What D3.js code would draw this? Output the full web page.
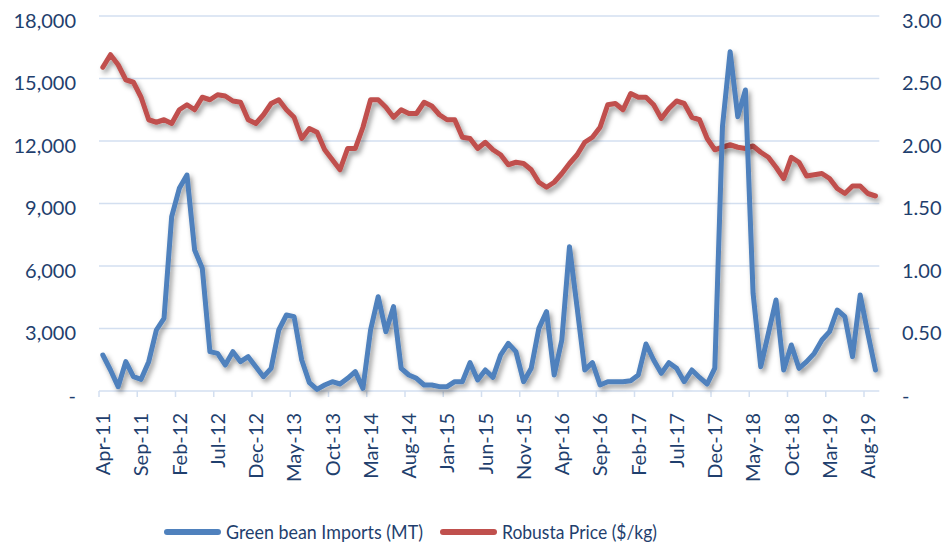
<!DOCTYPE html>
<html>
<head>
<meta charset="utf-8">
<script src="https://cdn.jsdelivr.net/npm/d3@7/dist/d3.min.js"></script>
<style>
  html, body { margin: 0; padding: 0; background: #fff; }
  svg { display: block; }
  text { font-family: Lato, "Open Sans", sans-serif; fill: #1F3F6E; }
</style>
</head>
<body>
<svg id="chart" width="946" height="544"></svg>
<script>
// ---- data ----
const categories = [
  "Apr-11","May-11","Jun-11","Jul-11","Aug-11","Sep-11","Oct-11","Nov-11","Dec-11","Jan-12","Feb-12","Mar-12",
  "Apr-12","May-12","Jun-12","Jul-12","Aug-12","Sep-12","Oct-12","Nov-12","Dec-12","Jan-13","Feb-13","Mar-13",
  "Apr-13","May-13","Jun-13","Jul-13","Aug-13","Sep-13","Oct-13","Nov-13","Dec-13","Jan-14","Feb-14","Mar-14",
  "Apr-14","May-14","Jun-14","Jul-14","Aug-14","Sep-14","Oct-14","Nov-14","Dec-14","Jan-15","Feb-15","Mar-15",
  "Apr-15","May-15","Jun-15","Jul-15","Aug-15","Sep-15","Oct-15","Nov-15","Dec-15","Jan-16","Feb-16","Mar-16",
  "Apr-16","May-16","Jun-16","Jul-16","Aug-16","Sep-16","Oct-16","Nov-16","Dec-16","Jan-17","Feb-17","Mar-17",
  "Apr-17","May-17","Jun-17","Jul-17","Aug-17","Sep-17","Oct-17","Nov-17","Dec-17","Jan-18","Feb-18","Mar-18",
  "Apr-18","May-18","Jun-18","Jul-18","Aug-18","Sep-18","Oct-18","Nov-18","Dec-18","Jan-19","Feb-19","Mar-19",
  "Apr-19","May-19","Jun-19","Jul-19","Aug-19","Sep-19"
];

const greenBeanImports = [
  1728,1008,208,1408,688,560,1408,2928,3488,8368,9728,10368,
  6768,5888,1888,1808,1248,1888,1408,1648,1168,688,1088,2928,
  3648,3568,1488,400,80,288,448,336,608,928,128,2928,
  4528,2848,4048,1088,768,608,288,288,208,208,448,448,
  1360,528,1008,656,1728,2288,1888,448,1088,3008,3808,768,
  2448,6928,4000,1008,1360,288,448,448,448,496,768,2256,
  1488,848,1360,1088,448,1008,650,336,1100,12700,16288,13168,
  14448,4688,1168,2768,4368,1008,2208,1088,1408,1808,2448,2848,
  3888,3568,1648,4608,2768,1008
];

const robustaPrice = [
  2.59,2.69,2.61,2.49,2.47,2.35,2.17,2.15,2.17,2.14,2.25,2.29,
  2.25,2.35,2.33,2.37,2.36,2.32,2.31,2.17,2.14,2.21,2.30,2.33,
  2.25,2.19,2.02,2.10,2.07,1.93,1.85,1.77,1.94,1.94,2.11,2.33,
  2.33,2.27,2.19,2.25,2.22,2.22,2.31,2.28,2.21,2.17,2.17,2.03,
  2.02,1.94,1.99,1.93,1.89,1.81,1.83,1.82,1.77,1.67,1.63,1.67,
  1.74,1.82,1.89,1.99,2.03,2.11,2.29,2.30,2.25,2.38,2.35,2.35,
  2.29,2.18,2.26,2.32,2.30,2.19,2.17,2.02,1.93,1.95,1.97,1.95,
  1.94,1.96,1.91,1.87,1.79,1.70,1.87,1.83,1.72,1.73,1.74,1.70,
  1.62,1.58,1.64,1.64,1.58,1.56
];

const xTickLabels = ["Apr-11","Sep-11","Feb-12","Jul-12","Dec-12","May-13","Oct-13","Mar-14","Aug-14",
  "Jan-15","Jun-15","Nov-15","Apr-16","Sep-16","Feb-17","Jul-17","Dec-17","May-18","Oct-18","Mar-19","Aug-19"];
const leftTicks = [0, 3000, 6000, 9000, 12000, 15000, 18000];
const rightTicks = [0, 0.5, 1, 1.5, 2, 2.5, 3];
const seriesNames = ["Green bean Imports (MT)", "Robusta Price ($/kg)"];

// ---- layout ----
const svg = d3.select("#chart");
const plotL = 99, plotR = 879.3, plotT = 16, plotB = 391;
const blue = "#4F81BD", red = "#C0504D", grid = "#D3DFF0";

const x = d3.scaleBand().domain(categories).range([plotL, plotR]).paddingInner(0).paddingOuter(0);
const cx = d => x(d) + x.bandwidth() / 2;
const yL = d3.scaleLinear().domain([0, 18000]).range([plotB, plotT]);
const yR = d3.scaleLinear().domain([0, 3]).range([plotB, plotT]);

const defs = svg.append("defs");
const f = defs.append("filter").attr("id", "shadow").attr("x", "-10%").attr("y", "-10%").attr("width", "120%").attr("height", "130%");
f.append("feDropShadow").attr("dx", 2.5).attr("dy", 3.5).attr("stdDeviation", 2.5)
  .attr("flood-color", "#000").attr("flood-opacity", 0.4);

// gridlines
svg.append("g").selectAll("line").data(leftTicks.filter(d => d > 0)).join("line")
  .attr("x1", plotL).attr("x2", plotR)
  .attr("y1", d => yL(d)).attr("y2", d => yL(d))
  .attr("stroke", grid).attr("stroke-width", 1.5);

// x axis
const xAxis = d3.axisBottom(x)
  .tickValues(xTickLabels)
  .tickSize(6)
  .tickFormat(d => d);
const gx = svg.append("g").attr("transform", `translate(0,${plotB})`).call(xAxis);
gx.select(".domain").attr("stroke", grid).attr("stroke-width", 1.5).attr("d", `M${plotL},0H${plotR}`);
gx.selectAll(".tick line").attr("stroke", grid).attr("stroke-width", 1.5)
  .attr("transform", `translate(${-x.bandwidth() / 2},0)`);
gx.selectAll(".tick text")
  .attr("font-family", "Lato, sans-serif")
  .attr("font-size", 20)
  .attr("fill", "#1F3F6E")
  .attr("text-anchor", "end")
  .attr("transform", "translate(0,22) rotate(-90)")
  .attr("x", 0).attr("y", 0).attr("dy", "0.36em").attr("dx", 0);

// left axis labels
const fmtL = d => d === 0 ? "-" : d3.format(",")(d);
const gl = svg.append("g").attr("transform", `translate(${76},0)`)
  .call(d3.axisLeft(yL).tickValues(leftTicks).tickSize(0).tickPadding(0).tickFormat(fmtL));
gl.select(".domain").remove();
gl.selectAll(".tick text").attr("font-family", "Lato, sans-serif").attr("font-size", 20)
  .attr("fill", "#1F3F6E").attr("dy", "0.56em");

// right axis labels
const fmtR = d => d === 0 ? "-" : d3.format(".2f")(d);
const gr = svg.append("g").attr("transform", `translate(${902},0)`)
  .call(d3.axisRight(yR).tickValues(rightTicks).tickSize(0).tickPadding(0).tickFormat(fmtR));
gr.select(".domain").remove();
gr.selectAll(".tick text").attr("font-family", "Lato, sans-serif").attr("font-size", 20)
  .attr("fill", "#1F3F6E").attr("dy", "0.56em");

// lines
const lineR = d3.line().x((d, i) => cx(categories[i])).y(d => yR(d));
const lineL = d3.line().x((d, i) => cx(categories[i])).y(d => yL(d));

svg.append("path").datum(robustaPrice).attr("d", lineR)
  .attr("fill", "none").attr("stroke", red).attr("stroke-width", 5)
  .attr("stroke-linejoin", "round").attr("stroke-linecap", "round")
  .attr("filter", "url(#shadow)");
svg.append("path").datum(greenBeanImports).attr("d", lineL)
  .attr("fill", "none").attr("stroke", blue).attr("stroke-width", 5)
  .attr("stroke-linejoin", "round").attr("stroke-linecap", "round")
  .attr("filter", "url(#shadow)");

// legend
const legend = [
  { name: seriesNames[0], color: blue, x0: 167, w: 197 },
  { name: seriesNames[1], color: red, x0: 443, w: 155 }
];
const lg = svg.append("g");
legend.forEach(l => {
  lg.append("line").attr("x1", l.x0).attr("x2", l.x0 + 51).attr("y1", 532).attr("y2", 532)
    .attr("stroke", l.color).attr("stroke-width", 6).attr("stroke-linecap", "round");
  const t = lg.append("text").attr("x", l.x0 + 59).attr("y", 539).attr("font-size", 20).text(l.name);
  const len = t.node().getComputedTextLength();
  if (len > l.w) {
    t.attr("textLength", l.w).attr("lengthAdjust", "spacingAndGlyphs");
  }
});
</script>
</body>
</html>
